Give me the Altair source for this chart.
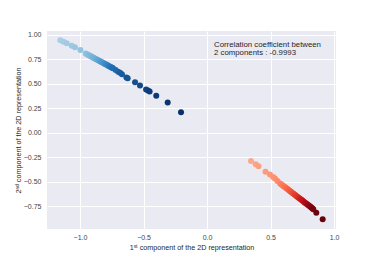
import altair as alt
import pandas as pd

blue_x = [-1.155, -1.13, -1.105, -1.065, -1.04, -0.997,
          -0.955, -0.945, -0.935, -0.925, -0.918, -0.908, -0.898, -0.89, -0.88, -0.872,
          -0.862, -0.853, -0.845, -0.836, -0.828, -0.82, -0.81, -0.802, -0.795, -0.786,
          -0.778, -0.77, -0.762, -0.755, -0.748, -0.74,
          -0.72, -0.70, -0.685, -0.67, -0.635, -0.625, -0.567, -0.528, -0.48, -0.465,
          -0.452, -0.40, -0.31, -0.205]
blue_y = [0.945, 0.93, 0.915, 0.89, 0.875, 0.845,
          0.810, 0.803, 0.796, 0.789, 0.784, 0.777, 0.770, 0.765, 0.758, 0.752,
          0.745, 0.739, 0.733, 0.727, 0.721, 0.716, 0.709, 0.703, 0.698, 0.692,
          0.686, 0.680, 0.675, 0.670, 0.665, 0.659,
          0.643, 0.625, 0.613, 0.600, 0.565, 0.558, 0.516, 0.485, 0.442, 0.432,
          0.424, 0.380, 0.310, 0.210]

red_x = [0.346, 0.383, 0.405, 0.46, 0.495, 0.52, 0.535, 0.554,
         0.575, 0.585, 0.594, 0.603, 0.612, 0.62, 0.63, 0.638, 0.647, 0.655, 0.663,
         0.672, 0.68, 0.688, 0.696, 0.705, 0.713, 0.721, 0.729, 0.737, 0.745, 0.753,
         0.761, 0.769, 0.777, 0.785, 0.793, 0.801, 0.809, 0.816, 0.823, 0.83, 0.836,
         0.86, 0.91]
red_y = [-0.287, -0.32, -0.34, -0.395, -0.425, -0.45, -0.465, -0.49,
         -0.515, -0.525, -0.534, -0.543, -0.552, -0.560, -0.570, -0.578, -0.587, -0.595, -0.603,
         -0.612, -0.620, -0.628, -0.636, -0.645, -0.653, -0.661, -0.669, -0.677, -0.685, -0.693,
         -0.701, -0.709, -0.717, -0.725, -0.733, -0.741, -0.749, -0.756, -0.764, -0.771, -0.778,
         -0.815, -0.88]

note_lines = ["Correlation coefficient between", "2 components : -0.9993"]
note_x = [0.055]
note_y = [0.88]

x_ticks = [-1.0, -0.5, 0.0, 0.5, 1.0]
y_ticks = [-0.75, -0.5, -0.25, 0.0, 0.25, 0.5, 0.75, 1.0]

blue = pd.DataFrame({"x": blue_x, "y": blue_y, "i": range(len(blue_x))})
red = pd.DataFrame({"x": red_x, "y": red_y, "i": range(len(red_x))})
note = pd.DataFrame({"x": note_x, "y": note_y, "t": ["\n".join(note_lines)]})

xs = alt.Scale(domain=[-1.26, 1.015], nice=False, zero=False)
ys = alt.Scale(domain=[-0.98, 1.04], nice=False, zero=False)

xenc = alt.X("x:Q", scale=xs, axis=alt.Axis(values=x_ticks, tickCount=len(x_ticks), format=".1f",
             labelOverlap=False, title="1ˢᵗ component of the 2D representation",
             labelPadding=4, titlePadding=3))
yenc = alt.Y("y:Q", scale=ys, axis=alt.Axis(values=y_ticks, tickCount=len(y_ticks), format=".2f",
             labelOverlap=False, title="2ⁿᵈ component of the 2D representation",
             labelPadding=6, titlePadding=1))

b = alt.Chart(blue).mark_circle(size=36, opacity=1).encode(
    x=xenc, y=yenc,
    color=alt.Color("i:Q", scale=alt.Scale(range=["#a9cfe5", "#6aaed6", "#2171b5", "#08306b"]), legend=None),
)
r = alt.Chart(red).mark_circle(size=36, opacity=1).encode(
    x=alt.X("x:Q", scale=xs), y=alt.Y("y:Q", scale=ys),
    color=alt.Color("i:Q", scale=alt.Scale(range=["#fca88c", "#fb6a4a", "#cb181d", "#67000d"]), legend=None),
)
t = alt.Chart(note).mark_text(align="left", baseline="alphabetic", fontSize=7.8, lineHeight=8.3,
                              lineBreak="\n", font="Liberation Sans", color="#262626").encode(
    x=alt.X("x:Q", scale=xs), y=alt.Y("y:Q", scale=ys), text="t:N")

chart = alt.layer(b, r, t).resolve_scale(color="independent").properties(
    width=289, height=198,
    autosize=alt.AutoSizeParams(type="none"),
    padding={"left": 39, "top": 23, "right": 20, "bottom": 30},
).configure_view(fill="#EAEAF2", stroke=None).configure_axis(
    domain=False, ticks=False, grid=True, gridColor="white", gridWidth=1,
    labelFont="Liberation Sans", labelFontSize=7, labelColor="#444444",
    titleFont="Liberation Sans", titleFontSize=7.2, titleFontWeight="normal", titleColor="#262626",
)

chart.save("out.html", embed_options={"renderer": "svg", "actions": False})
